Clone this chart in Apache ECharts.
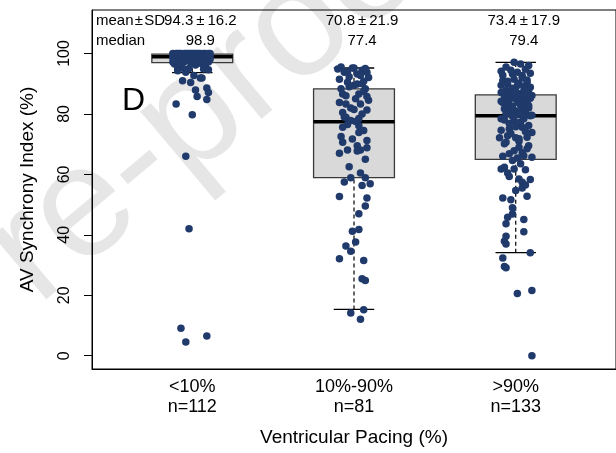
<!DOCTYPE html>
<html><head><meta charset="utf-8">
<script src="https://cdn.jsdelivr.net/npm/echarts@6/dist/echarts.min.js"></script>
<style>html,body{margin:0;padding:0;background:#fff}#c{width:616px;height:453px}</style>
</head><body><div id="c"></div>
<script>
const categories = ["<10%", "10%-90%", ">90%"];
const yTicks = [0, 20, 40, 60, 80, 100];
const xTitle = "Ventricular Pacing (%)";
const yTitle = "AV Synchrony Index (%)";
const meanSD = ["94.3\u2009\u00b1\u200916.2", "70.8\u2009\u00b1\u200921.9", "73.4\u2009\u00b1\u200917.9"];

const boxMin    = [93.7, 15.3, 34.1];
const boxQ1     = [97.0, 58.9, 65.0];
const boxMedian = [98.9, 77.4, 79.4];
const boxQ3     = [99.8, 88.3, 86.3];
const boxMax    = [100, 95.2, 97.1];

const g1Values = [83.3,79.7,66.0,42.0,9.1,4.5,6.5,91.0,90.4,91.9,91.9,87.9,85.8,88.6,87.1,84.8,94.9,94.9,92.7,93.8,
96.5,95.8,95.2,96.2,94.6,94.3,96.8,95.0,
100,100,100,100,100,100,100,100,100,100,100,100,100,100,100,100,100,100,100,100,99.9,99.9,99.9,99.9,99.9,99.9,99.9,99.9,
99.7,99.7,99.6,99.6,99.5,99.5,99.4,99.4,99.3,99.3,99.2,99.2,99.1,99.1,99.0,99.0,99.0,98.9,98.9,98.9,98.8,98.8,98.7,98.7,98.6,98.6,98.5,98.5,98.4,98.4,98.3,98.3,98.2,98.2,98.1,98.0,98.0,97.9,97.9,97.8,97.8,97.7,97.7,97.6,97.6,97.5,97.5,97.4,97.4,97.3,97.3,97.2,97.2,97.1,97.1,97.0];
const g1Jitter = [-0.10,0.00,-0.04,-0.02,-0.07,-0.04,0.09,-0.06,-0.01,0.05,0.06,0.02,0.03,0.09,0.10,0.09,-0.09,0.07,0.01,-0.04,
-0.11,0.08,-0.06,0.02,0.10,-0.09,0.05,-0.02,
-0.10,-0.07,-0.04,-0.01,0.02,0.05,0.08,0.11,-0.12,-0.09,-0.05,-0.02,0.01,0.04,0.07,0.10,-0.08,-0.03,0.00,0.03,0.06,0.09,-0.11,-0.06,0.02,0.05,-0.01,0.08,
-0.12,-0.08,-0.05,-0.01,0.03,0.07,0.11,-0.10,-0.06,-0.02,0.02,0.06,0.10,-0.11,-0.07,-0.03,0.01,0.05,0.09,-0.09,-0.04,0.00,0.04,0.08,-0.12,-0.05,0.03,0.10,-0.08,-0.01,0.06,-0.10,-0.03,0.04,0.11,-0.06,0.01,0.07,-0.11,-0.02,0.05,-0.07,0.02,0.09,-0.04,0.06,-0.09,0.00,0.08,-0.05,0.03,-0.12,0.10,-0.01,0.04,-0.08];

const g2Values = [94.9,95.2,95.2,93.8,93.8,92.3,92.7,92.1,90.8,90.5,89.9,88.3,88.3,86.6,86.6,83.8,83.3,83.3,81.3,80.5,78.9,77.8,77.5,75.6,76.1,73.9,71.7,70.6,71.2,68.8,68.1,68.1,67.0,67.7,58.9,58.9,56.3,56.9,52.7,52.2,49.5,41.2,41.8,37.6,36.3,34.6,32.1,31.5,25.5,24.9,14.1,15.2,12.1,
95.5,94.5,94.0,93.2,95.0,91.5,89.5,90.0,89.0,87.5,86.0,85.0,84.5,82.0,80.0,79.0,78.5,85.8,76.5,74.5,72.5,69.5,65.0,62.5,60.5,57.5,47.0,81.5];
const g2Jitter = [-0.10,-0.01,0.00,0.08,-0.06,-0.03,0.04,0.09,0.06,-0.04,0.02,0.07,-0.08,0.03,-0.07,-0.09,-0.05,0.04,0.08,-0.07,-0.05,-0.02,0.01,-0.07,0.03,0.03,-0.01,-0.07,0.08,0.08,0.04,-0.04,-0.09,0.02,-0.02,0.07,0.05,0.10,-0.09,0.08,0.07,-0.01,0.03,0.01,-0.05,-0.02,-0.09,0.06,0.05,0.07,-0.02,0.06,0.04,
-0.08,0.05,-0.04,0.02,0.07,-0.09,0.00,0.05,-0.03,0.06,-0.05,0.01,0.09,-0.02,0.05,-0.06,0.03,0.08,-0.04,0.06,-0.08,0.02,0.07,-0.03,0.04,-0.06,0.03,0.00];

const g3Values = [97.1,96.0,94.1,93.2,92.7,91.0,90.5,89.9,89.4,88.8,87.1,87.7,86.6,86.1,85.5,85.0,83.8,84.4,82.7,83.3,82.7,81.1,80.5,79.4,78.4,77.8,78.4,75.0,75.6,73.9,72.1,72.8,72.1,72.3,70.1,69.0,69.5,66.8,66.2,65.7,64.6,61.8,62.4,61.8,61.5,59.3,58.5,58.3,57.4,54.7,55.5,52.8,52.2,51.6,46.9,45.8,43.7,45.1,37.9,37.0,34.1,32.3,29.5,29.1,20.6,21.6,0.0,
96.5,95.5,94.8,94.5,93.8,93.5,92.8,92.0,91.5,91.2,90.8,90.2,89.5,89.0,88.5,88.0,87.8,87.4,87.0,86.8,
86.2,86.0,85.8,85.4,85.2,84.8,84.5,84.2,83.9,83.5,83.1,82.9,82.4,82.0,81.7,81.4,81.0,80.7,80.4,80.1,79.8,79.6,
79.2,78.8,78.0,77.3,76.8,76.2,75.8,74.6,74.2,73.5,71.0,70.6,68.5,67.8,67.2,66.0,65.4,
63.5,60.5,56.5,49.0,41.0,39.5,71.8];
const g3Jitter = [-0.01,0.08,-0.09,-0.02,0.04,-0.08,0.07,-0.05,0.01,0.09,-0.09,-0.03,0.04,0.10,-0.06,0.00,-0.08,0.07,-0.03,0.04,0.08,-0.05,0.01,0.09,-0.09,-0.01,0.05,-0.04,0.04,0.10,-0.10,-0.05,0.00,0.07,-0.07,0.02,0.08,-0.04,0.05,0.10,-0.02,-0.09,-0.07,-0.01,0.06,-0.04,0.02,0.09,0.04,0.00,0.04,0.07,-0.08,-0.03,-0.02,-0.05,-0.06,0.05,-0.07,-0.06,0.09,-0.08,-0.07,-0.06,0.01,0.10,0.10,
0.03,-0.06,0.06,-0.03,0.01,0.09,-0.08,0.04,-0.01,0.07,-0.05,0.02,-0.09,0.05,-0.02,0.08,-0.06,0.00,0.04,-0.04,
0.06,-0.07,0.02,-0.01,0.09,-0.04,0.05,-0.09,0.01,0.07,-0.05,0.03,-0.02,0.08,-0.07,0.04,0.00,-0.03,0.06,-0.06,0.02,0.10,
-0.02,0.05,-0.07,0.03,-0.04,0.08,0.00,-0.09,0.06,-0.03,0.02,-0.06,0.07,-0.01,0.04,-0.08,0.01,
0.03,-0.05,0.06,-0.02,0.05,-0.06,0.02];

const FONT = '"Liberation Sans", Arial, Helvetica, sans-serif';
const groups = [[g1Values, g1Jitter], [g2Values, g2Jitter], [g3Values, g3Jitter]];
const counts = groups.map(g => g[0].length);
const pointData = [];
groups.forEach((g, i) => g[0].forEach((v, k) => pointData.push([i + 1 + g[1][k], v])));
const boxData = categories.map((c, i) => [i + 1, boxMin[i], boxQ1[i], boxMedian[i], boxQ3[i], boxMax[i]]);

const chart = echarts.init(document.getElementById('c'), null, {renderer: 'canvas'});

function renderBox(params, api) {
  const x = api.value(0);
  const hw = 0.25, cw = 0.125;
  const pMin = api.coord([x, api.value(1)]);
  const pQ1 = api.coord([x, api.value(2)]);
  const pMed = api.coord([x, api.value(3)]);
  const pQ3 = api.coord([x, api.value(4)]);
  const pMax = api.coord([x, api.value(5)]);
  const l = api.coord([x - hw, 0])[0], r = api.coord([x + hw, 0])[0];
  const cl = api.coord([x - cw, 0])[0], cr = api.coord([x + cw, 0])[0];
  const dash = {stroke: '#000', lineWidth: 1.2, lineDash: [4, 3]};
  const solid = {stroke: '#000', lineWidth: 1.3};
  return {type: 'group', children: [
    {type: 'line', shape: {x1: pMin[0], y1: pMin[1], x2: pQ1[0], y2: pQ1[1]}, style: dash},
    {type: 'line', shape: {x1: pQ3[0], y1: pQ3[1], x2: pMax[0], y2: pMax[1]}, style: dash},
    {type: 'line', shape: {x1: cl, y1: pMin[1], x2: cr, y2: pMin[1]}, style: solid},
    {type: 'line', shape: {x1: cl, y1: pMax[1], x2: cr, y2: pMax[1]}, style: solid},
    {type: 'rect', shape: {x: l, y: pQ3[1], width: r - l, height: pQ1[1] - pQ3[1]}, style: {fill: '#d9d9d9', stroke: '#3a3a3a', lineWidth: 1.3}},
    {type: 'line', shape: {x1: l, y1: pMed[1], x2: r, y2: pMed[1]}, style: {stroke: '#000', lineWidth: 3.5}}
  ]};
}

chart.setOption({
  animation: false,
  grid: {left: 92, right: 0, top: 10, bottom: 84, show: true, borderColor: '#000', borderWidth: 1},
  xAxis: {
    type: 'value', min: 0.38, max: 3.62,
    axisLine: {show: true, onZero: false, lineStyle: {color: '#000', width: 1}},
    axisTick: {show: false}, splitLine: {show: false},
    axisLabel: {customValues: [1, 2, 3], color: '#000', fontSize: 18, lineHeight: 20, margin: 8, fontFamily: FONT,
      formatter: v => { const i = Math.round(v) - 1; return categories[i] + '\nn=' + counts[i]; }},
    name: xTitle, nameLocation: 'middle', nameGap: 59,
    nameTextStyle: {color: '#000', fontSize: 19, fontFamily: FONT}
  },
  yAxis: {
    type: 'value', min: -4.4, max: 114.4,
    axisLine: {show: true, onZero: false, lineStyle: {color: '#000', width: 1}},
    axisTick: {show: true, length: 8, customValues: yTicks, lineStyle: {color: '#000'}},
    axisLabel: {customValues: yTicks, rotate: 90, margin: 19, color: '#000', fontSize: 16, fontFamily: FONT},
    splitLine: {show: false},
    name: yTitle, nameLocation: 'middle', nameGap: 55,
    nameTextStyle: {color: '#000', fontSize: 19, fontFamily: FONT}
  },
  series: [
    {type: 'custom', data: boxData, renderItem: renderBox, encode: {x: 0, y: [1, 2, 3, 4, 5]}, z: 2, silent: true},
    {type: 'scatter', data: pointData, symbol: 'circle', symbolSize: 7.5,
     itemStyle: {color: '#1f3a6b', opacity: 1}, z: 3, silent: true}
  ]
});

const txt = {fill: '#000', fontSize: 15, fontFamily: FONT};
const graphics = [
  {type: 'text', x: 10, y: 273, rotation: 40 * Math.PI / 180, z: -10, silent: true,
   style: {text: 're-proof', fill: '#e6e6e6', fontSize: 158, fontFamily: FONT, align: 'left', verticalAlign: 'middle'}},
  {type: 'text', x: 96, y: 21, z: 10, style: Object.assign({text: 'mean\u200a\u00b1\u200aSD', align: 'left', verticalAlign: 'middle'}, txt)},
  {type: 'text', x: 96, y: 41, z: 10, style: Object.assign({text: 'median', align: 'left', verticalAlign: 'middle'}, txt)},
  {type: 'text', x: 122, y: 101, z: 10, style: {text: 'D', fill: '#000', fontSize: 32, fontFamily: FONT, align: 'left', verticalAlign: 'middle'}}
];
categories.forEach((c, i) => {
  const px = chart.convertToPixel({gridIndex: 0}, [i + 1.05, 0])[0];
  graphics.push({type: 'text', x: px, y: 21, z: 10, style: Object.assign({text: meanSD[i], align: 'center', verticalAlign: 'middle'}, txt)});
  graphics.push({type: 'text', x: px, y: 41, z: 10, style: Object.assign({text: boxMedian[i].toFixed(1), align: 'center', verticalAlign: 'middle'}, txt)});
});
chart.setOption({graphic: graphics});
</script>
</body></html>
